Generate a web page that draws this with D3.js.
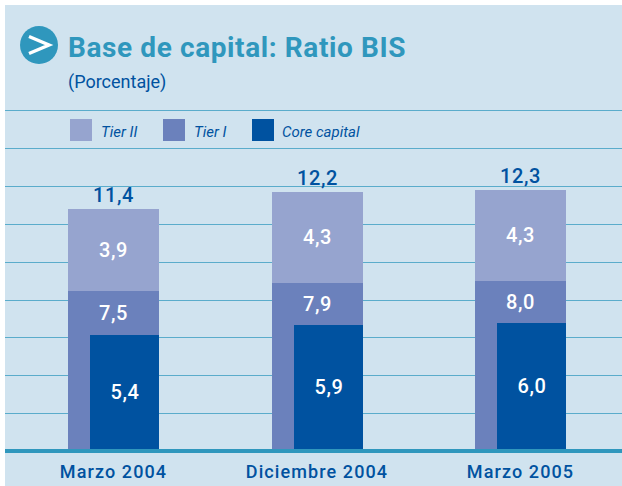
<!DOCTYPE html>
<html><head><meta charset="utf-8">
<script src="https://cdn.jsdelivr.net/npm/d3@7"></script>
<style>html,body{margin:0;padding:0;background:#fff}svg{display:block}text{font-family:Roboto,sans-serif}</style>
</head><body><div id="c"></div>
<script>
const categories=["Marzo 2004","Diciembre 2004","Marzo 2005"];
const totals=[11.4,12.2,12.3];
const tierI=[7.5,7.9,8.0];
const coreCapital=[5.4,5.9,6.0];
const tierII=[3.9,4.3,4.3];
const gridLevels=[1.71,3.515,5.32,7.08,8.88,10.69,12.49,14.3,16.1];
const legendItems=["Tier II","Tier I","Core capital"];
const legendColors=["#96a4cf","#6b81bc","#0052a0"];
const fmt=v=>d3.format(".1f")(v).replace(".",",");
const W=622,H=486,base=449;
const svg=d3.select("#c").append("svg").attr("width",W).attr("height",H);
svg.append("rect").attr("x",5).attr("y",5).attr("width",W-5).attr("height",H-5).attr("fill","#d0e3ef");
const y=d3.scaleLinear().domain([0,12.3]).range([base,190]);
const x=d3.scaleBand().domain(categories).range([68,566]).paddingInner(1-91/203.5).paddingOuter(0);
const X=c=>Math.round(x(c)), Y=v=>Math.round(y(v));
svg.append("g").selectAll("line").data(gridLevels).join("line")
 .attr("x1",5).attr("x2",W).attr("y1",d=>Y(d)+.5).attr("y2",d=>Y(d)+.5)
 .attr("stroke","#5aaccb").attr("stroke-width",1);
const bw=Math.round(x.bandwidth());
const rows=categories.map((c,i)=>({c,total:totals[i],t1:tierI[i],core:coreCapital[i],t2:tierII[i]}));
const g=svg.append("g");
g.selectAll(".t").data(rows).join("rect").attr("x",d=>X(d.c)).attr("width",bw).attr("y",d=>Y(d.total)).attr("height",d=>base-Y(d.total)).attr("fill",legendColors[0]);
g.selectAll(".m").data(rows).join("rect").attr("x",d=>X(d.c)).attr("width",bw).attr("y",d=>Y(d.t1)).attr("height",d=>base-Y(d.t1)).attr("fill",legendColors[1]);
const off=Math.round(bw*.24);
g.selectAll(".k").data(rows).join("rect").attr("x",d=>X(d.c)+off).attr("width",bw-off).attr("y",d=>Y(d.core)).attr("height",d=>base-Y(d.core)).attr("fill",legendColors[2]);
svg.append("rect").attr("x",5).attr("y",base).attr("width",W-5).attr("height",4).attr("fill","#2f97bd");
const lab=(cx,cy,txt,fill)=>svg.append("text").attr("x",cx).attr("y",cy).attr("text-anchor","middle").attr("font-size",20).attr("letter-spacing",.6).attr("fill",fill).text(txt);
rows.forEach(d=>{
 const cx=X(d.c)+bw/2;
 lab(cx,y(d.total)-7,fmt(d.total),"#0052a0").attr("font-weight",500);
 lab(cx,(y(d.total)+y(d.t1))/2+7,fmt(d.t2),"#fff").attr("font-weight",500);
 lab(cx,(y(d.t1)+y(d.core))/2+7,fmt(d.t1),"#fff").attr("font-weight",500);
 lab(X(d.c)+off+(bw-off)/2+.5,(y(d.core)+base)/2+7,fmt(d.core),"#fff").attr("font-weight",500);
});
const ax=svg.append("g").attr("transform",`translate(0,${base})`).call(d3.axisBottom(x).tickSize(0));
ax.select(".domain").remove();
ax.selectAll("text").attr("y",16).attr("dy",".71em").attr("font-size",18).attr("font-weight",500).attr("fill","#0052a0").style("font-family","Roboto,sans-serif").attr("letter-spacing",1.1);
// header
svg.append("circle").attr("cx",39).attr("cy",45).attr("r",19).attr("fill","#2f97bd");
svg.append("path").attr("d","M29 36.5L49 45L29 53.5").attr("fill","none").attr("stroke","#fff").attr("stroke-width",3.4);
svg.append("text").attr("x",68).attr("y",57).attr("font-size",28).attr("font-weight",700).attr("letter-spacing",.6).attr("fill","#2f97bd").text("Base de capital: Ratio BIS");
svg.append("text").attr("x",68).attr("y",88).attr("font-size",18).attr("fill","#0052a0").text("(Porcentaje)");
const lx=[70,163,252],tx=[101,194,282];
legendItems.forEach((t,i)=>{
 svg.append("rect").attr("x",lx[i]).attr("y",119).attr("width",22).attr("height",22).attr("fill",legendColors[i]);
 svg.append("text").attr("x",tx[i]).attr("y",137).attr("font-size",15).attr("font-style","italic").attr("fill","#0052a0").text(t);
});
</script></body></html>
